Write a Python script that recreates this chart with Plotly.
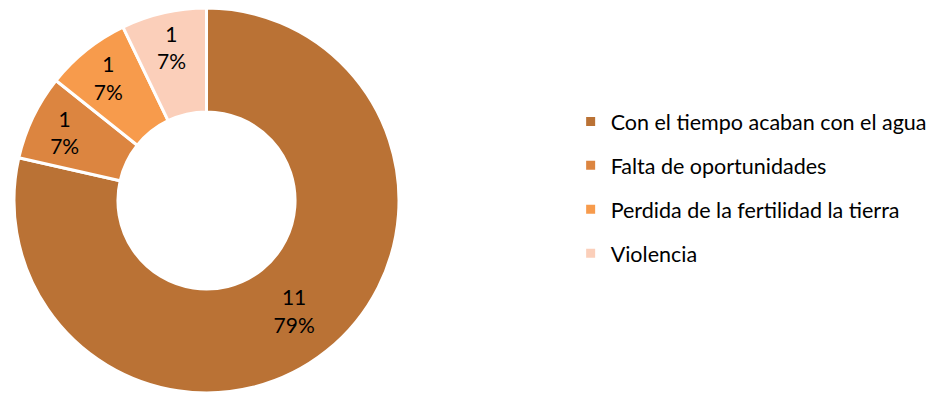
import plotly.graph_objects as go

labels = ["Con el tiempo acaban con el agua", "Falta de oportunidades",
          "Perdida de la fertilidad la tierra", "Violencia"]
values = [11, 1, 1, 1]
colors = ["#BA7235", "#DC8540", "#F79B4C", "#FBCFBA"]

FONT = "Lato"
W, H = 932, 385  # page body has an 8px margin

fig = go.Figure()
fig.add_trace(go.Pie(
    labels=labels, values=values, hole=0.46, sort=False,
    direction="clockwise", rotation=0,
    marker=dict(colors=colors, line=dict(color="white", width=3)),
    texttemplate="%{value}<br>%{percent:.0%}", textposition="inside",
    insidetextorientation="horizontal",
    textfont=dict(family=FONT, size=21, color="black"),
    domain=dict(x=[5 / W, 392 / W], y=[0, 1]),
    showlegend=False, hoverinfo="label+value+percent",
))

for i, (lab, col) in enumerate(zip(labels, colors)):
    fig.add_trace(go.Scatter(
        x=[None], y=[None], mode="markers", name=lab,
        marker=dict(symbol="square", size=9, color=col),
        legendgroup=f"g{i}", showlegend=True,
    ))

fig.update_layout(
    width=W, height=H,
    margin=dict(l=0, r=0, t=0, b=0),
    paper_bgcolor="white", plot_bgcolor="white",
    xaxis=dict(visible=False), yaxis=dict(visible=False),
    legend=dict(x=0.6037, y=0.534, xanchor="left", yanchor="middle",
                font=dict(family=FONT, size=21.5, color="black"),
                tracegroupgap=13, traceorder="grouped",
                bgcolor="rgba(0,0,0,0)"),
    font=dict(family=FONT),
)

fig.write_html("out.html")
